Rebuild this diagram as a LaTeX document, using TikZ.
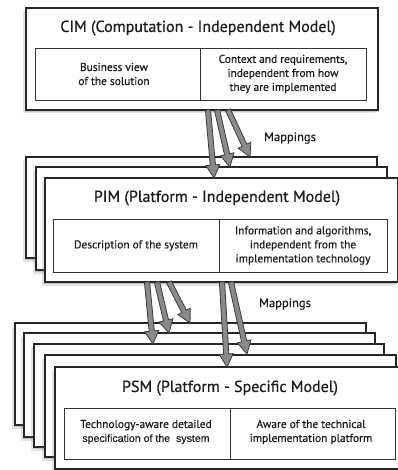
\documentclass[tikz,border=0pt]{standalone}
\usepackage{fontspec}
\setmainfont[FakeBold=0.6]{PT Sans}
\newfontfamily\arialf[FakeBold=0.3]{Liberation Sans}
\usetikzlibrary{calc,shadows}
\definecolor{txt}{HTML}{1C1C1C}
\definecolor{arrfill}{HTML}{8A8A8A}
\definecolor{arrline}{HTML}{3A3A3A}
\tikzset{
  layerbox/.style={draw=black!85, line width=1.1pt, fill=white, inner sep=0pt, outer sep=0pt, anchor=north west,
     drop shadow={shadow xshift=-3pt, shadow yshift=-3.5pt, opacity=.22},
     drop shadow={shadow xshift=-1.5pt, shadow yshift=-2pt, opacity=.3}},
  cellbox/.style={draw=black!80, line width=0.9pt, inner sep=0pt, outer sep=0pt, anchor=north west},
  titletext/.style={text=txt, font=\fontsize{16}{19}\selectfont, inner sep=0pt},
  celltext/.style={text=txt, font=\fontsize{11.4}{14}\selectfont, align=center, inner sep=0pt},
  maptext/.style={text=txt, font=\fontsize{12.5}{14}\selectfont, inner sep=0pt},
  fatarrow/.style={draw=arrline, fill=arrfill, line width=0.8pt, line join=miter},
}
\newcommand\layer[5]{\node[layerbox, minimum width=#4pt-#2pt, minimum height=#5pt-#3pt] (#1) at (#2,#3) {};}
\newcommand\cell[5]{\node[cellbox, minimum width=#4pt-#2pt, minimum height=#5pt-#3pt] (#1) at (#2,#3) {};}
\newcommand\fatarr[2]{%
  \coordinate (fH) at ($(#2)!13pt!(#1)$);
  \draw[fatarrow] ($(#1)!2.6pt!90:(#2)$) -- ($(fH)!2.6pt!90:(#2)$) -- ($(fH)!7pt!90:(#2)$) -- (#2)
     -- ($(fH)!7pt!-90:(#2)$) -- ($(fH)!2.6pt!-90:(#2)$) -- ($(#1)!2.6pt!-90:(#2)$) -- cycle;}
\begin{document}
\begin{tikzpicture}[x=1pt,y=-1pt]
\useasboundingbox[fill=white] (0,0) rectangle (397,470);
% ---------- CIM ----------
\layer{cim}{26}{8}{378}{110}
\node[titletext] (cimtitle) at (198,28) {CIM (Computation - Independent Model)};
\cell{cimL}{35}{48}{200}{100}
\cell{cimR}{200}{48}{366}{100}
\node[celltext] (cimLt) at (114,74) {Business view\\of the solution};
\node[celltext] (cimRt) at (cimR.center) {Context and requirements,\\independent from how\\they are implemented};
% ---------- PIM stack ----------
\layer{pim1}{26}{157}{377}{258}
\layer{pim2}{36}{167}{387}{270}
\layer{pim3}{45}{178}{398}{282}
\node[titletext] (pimtitle) at (217,198) {PIM (Platform - Independent Model)};
\cell{pimL}{53}{219}{219}{272}
\cell{pimR}{219}{219}{387}{272}
\node[celltext] (pimLt) at (pimL.center) {Description of the system};
\node[celltext] (pimRt) at (pimR.center) {Information and algorithms,\\independent from the\\implementation technology};
% ---------- PSM stack ----------
\layer{psm1}{15}{323}{366}{425}
\layer{psm2}{24}{333}{375}{437}
\layer{psm3}{34}{344}{384}{447}
\layer{psm4}{45}{355}{396}{457}
\layer{psm5}{55}{367}{404}{469}
\node[titletext] (psmtitle) at (230,388) {PSM (Platform - Specific Model)};
\cell{psmL}{64}{408}{230}{459}
\cell{psmR}{230}{408}{395}{459}
\node[celltext] (psmLt) at (146,432) {Technology-aware detailed\\{\arialf\fontsize{10.6}{14}\selectfont specification of the\ \ system}};
\node[celltext] (psmRt) at (311,432) {Aware of the technical\\implementation platform};
% ---------- mappings CIM -> PIM ----------
\coordinate (c1s) at (208,110); \coordinate (c1e) at (214,178);
\coordinate (c2s) at (217,110); \coordinate (c2e) at (230,167);
\coordinate (c3s) at (228,110); \coordinate (c3e) at (250,157);
\fatarr{c3s}{c3e}
\fatarr{c2s}{c2e}
\fatarr{c1s}{c1e}
\node[maptext] (map1) at (290,138) {Mappings};
% ---------- mappings PIM -> PSM ----------
\coordinate (p1s) at (147,282); \coordinate (p1e) at (153,344);
\coordinate (p2s) at (157,282); \coordinate (p2e) at (169,333);
\coordinate (p3s) at (169,282); \coordinate (p3e) at (190,323);
\coordinate (p4s) at (222,282); \coordinate (p4e) at (227,367);
\coordinate (p5s) at (231,282); \coordinate (p5e) at (247,354);
\fatarr{p3s}{p3e}
\fatarr{p2s}{p2e}
\fatarr{p1s}{p1e}
\fatarr{p5s}{p5e}
\fatarr{p4s}{p4e}
\node[maptext] (map2) at (285,304) {Mappings};
\end{tikzpicture}
\end{document}
